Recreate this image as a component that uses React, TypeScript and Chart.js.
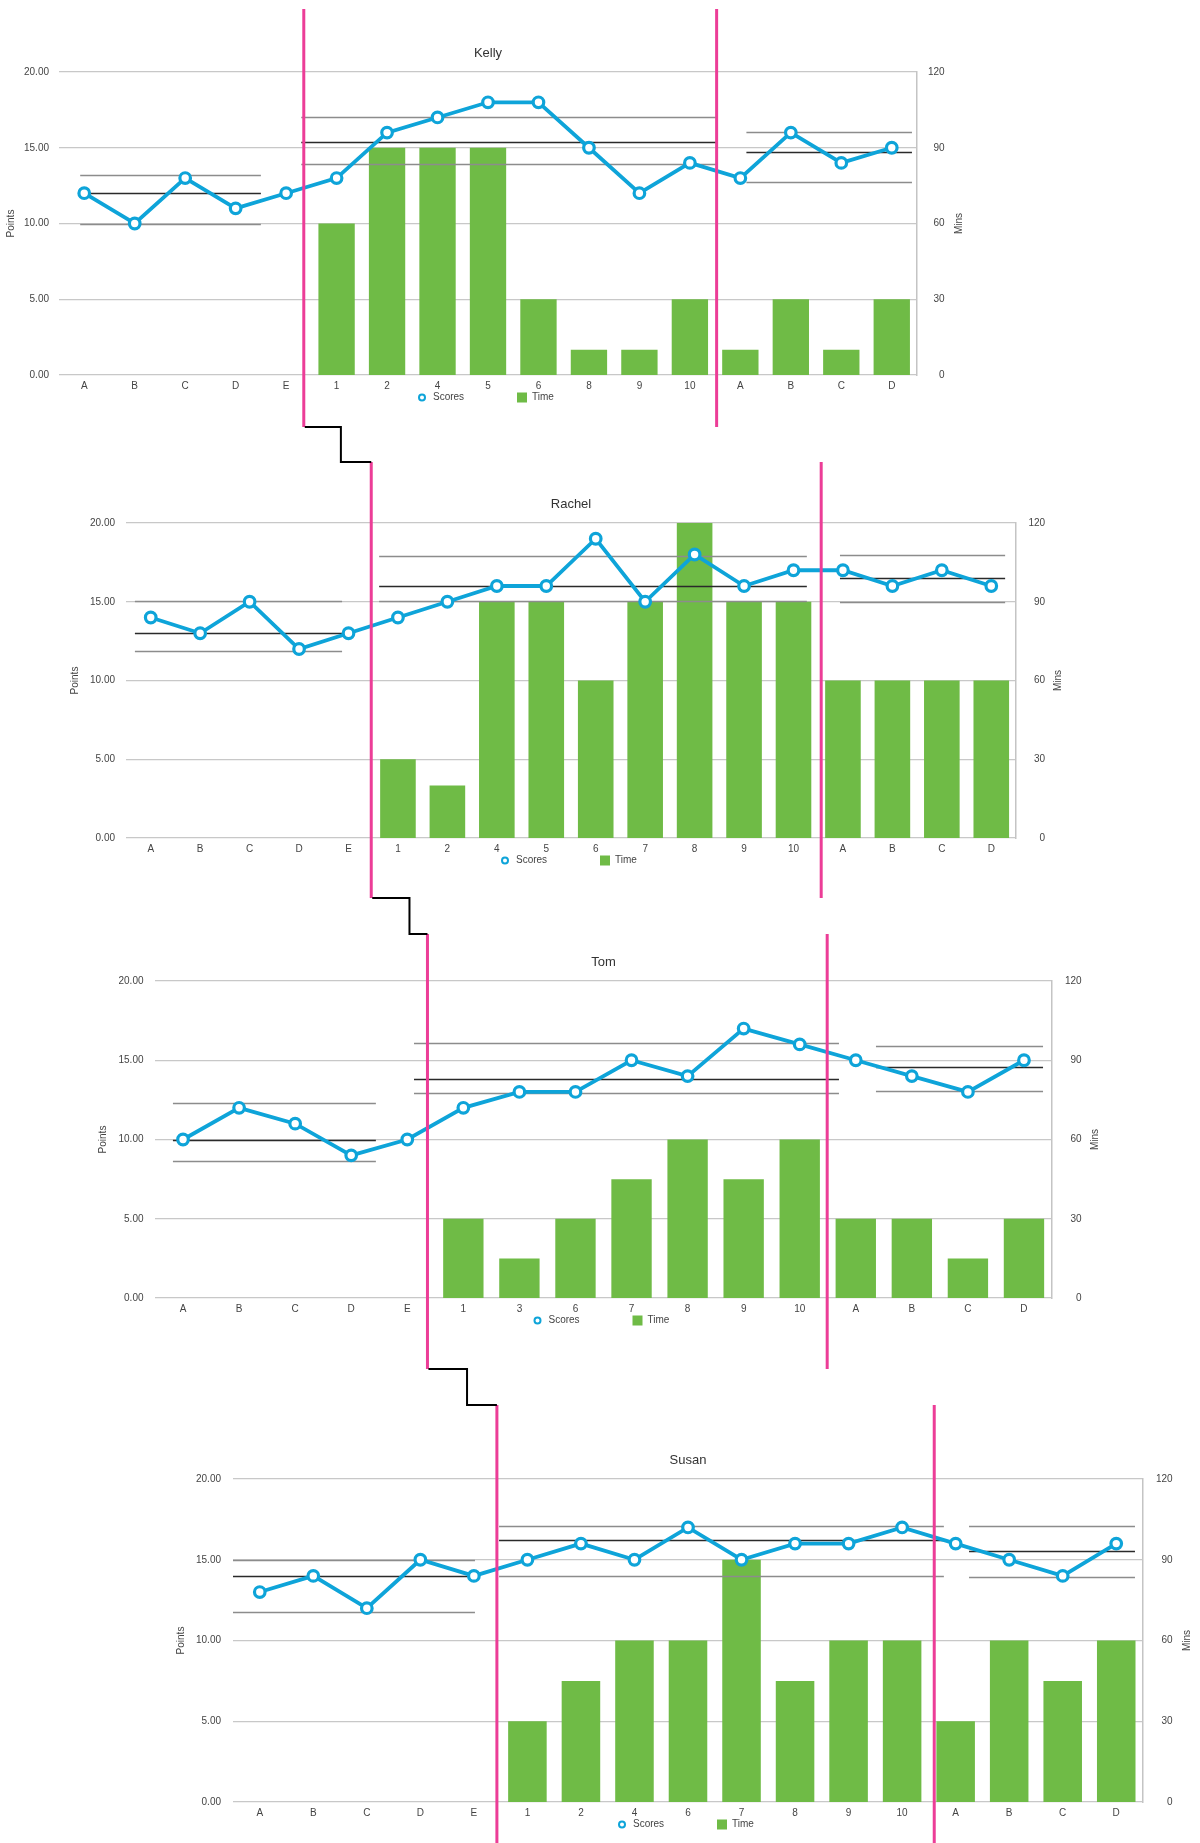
import React, { useEffect, useRef } from 'react';
import { Chart, registerables } from 'chart.js';

Chart.register(...registerables);

const FONT = '"Liberation Sans", Arial, Helvetica, sans-serif';
const BLUE = '#0ea4d9';
const GREEN = '#6fbb46';
const PINK = '#ec3d97';
const TEXT = '#444444';
const GRID = '#c8c8c8';

// ---------- data ----------
const pointsTicks = [0, 5, 10, 15, 20];
const minsTicks = [0, 30, 60, 90, 120];

const kellyLabels = ['A', 'B', 'C', 'D', 'E', '1', '2', '4', '5', '6', '8', '9', '10', 'A', 'B', 'C', 'D'];
const kellyScores = [12, 10, 13, 11, 12, 13, 16, 17, 18, 18, 15, 12, 14, 13, 16, 14, 15];
const kellyTime = [null, null, null, null, null, 60, 90, 90, 90, 30, 10, 10, 30, 10, 30, 10, 30];
const kellyStats = [[13.2, 12.0, 10.0], [17.0, 15.4, 13.9], [16.05, 14.7, 12.72]];
const kellyStatSpans = [[-0.08, 3.5], [4.3, 12.55], [13.12, 16.4]];
const kellyPhaseLines = [4.35, 12.53];

const rachelLabels = ['A', 'B', 'C', 'D', 'E', '1', '2', '4', '5', '6', '7', '8', '9', '10', 'A', 'B', 'C', 'D'];
const rachelScores = [14, 13, 15, 12, 13, 14, 15, 16, 16, 19, 15, 18, 16, 17, 17, 16, 17, 16];
const rachelTime = [null, null, null, null, null, 30, 20, 90, 90, 60, 90, 120, 90, 90, 60, 60, 60, 60];
const rachelStats = [[15.03, 13.0, 11.85], [17.93, 16.0, 15.03], [18.0, 16.5, 14.97]];
const rachelStatSpans = [[-0.32, 3.87], [4.62, 13.27], [13.94, 17.28]];
const rachelPhaseLines = [4.46, 13.56];

const tomLabels = ['A', 'B', 'C', 'D', 'E', '1', '3', '6', '7', '8', '9', '10', 'A', 'B', 'C', 'D'];
const tomScores = [10, 12, 11, 9, 10, 12, 13, 13, 15, 14, 17, 16, 15, 14, 13, 15];
const tomTime = [null, null, null, null, null, 30, 15, 30, 45, 60, 45, 60, 30, 30, 15, 30];
const tomStats = [[12.28, 10.0, 8.66], [16.07, 13.84, 12.93], [15.92, 14.55, 13.06]];
const tomStatSpans = [[-0.18, 3.44], [4.12, 11.7], [12.36, 15.34]];
const tomPhaseLines = [4.36, 11.49];

const susanLabels = ['A', 'B', 'C', 'D', 'E', '1', '2', '4', '6', '7', '8', '9', '10', 'A', 'B', 'C', 'D'];
const susanScores = [13, 14, 12, 15, 14, 15, 16, 15, 17, 15, 16, 16, 17, 16, 15, 14, 16];
const susanTime = [null, null, null, null, null, 30, 45, 60, 60, 90, 45, 60, 60, 30, 60, 45, 60];
const susanStats = [[15.0, 13.97, 11.74], [17.11, 16.24, 13.97], [17.11, 15.54, 13.91]];
const susanStatSpans = [[-0.5, 4.02], [4.47, 12.78], [13.25, 16.35]];
const susanPhaseLines = [4.43, 12.6];

// ---------- layout ----------
const X_AXIS_H = 18;
const LEGEND_H = 22;
const PINK_SEGMENTS = [[9, 427], [462, 898], [934, 1369], [1405, 1843]];
const CONNECTOR_FRAC = [0.55, 0.68, 0.57];

interface Box {
  canvasTop: number; left: number; right: number; top: number; bottom: number;
  pointsX: number; minsX: number; leftPad: number; rightPad: number;
}
interface Spec {
  name: string; labels: string[]; scores: number[]; time: (number | null)[];
  stats: number[][]; spans: number[][]; phases: number[]; box: Box;
}

const specs: Spec[] = [
  { name: 'Kelly', labels: kellyLabels, scores: kellyScores, time: kellyTime, stats: kellyStats, spans: kellyStatSpans, phases: kellyPhaseLines,
    box: { canvasTop: 0, left: 59, right: 917, top: 72, bottom: 375, pointsX: 11.5, minsX: 959, leftPad: 10, rightPad: 11 } },
  { name: 'Rachel', labels: rachelLabels, scores: rachelScores, time: rachelTime, stats: rachelStats, spans: rachelStatSpans, phases: rachelPhaseLines,
    box: { canvasTop: 440, left: 126, right: 1016, top: 523, bottom: 838, pointsX: 75, minsX: 1058, leftPad: 11, rightPad: 12.5 } },
  { name: 'Tom', labels: tomLabels, scores: tomScores, time: tomTime, stats: tomStats, spans: tomStatSpans, phases: tomPhaseLines,
    box: { canvasTop: 890, left: 155, right: 1052, top: 981, bottom: 1298, pointsX: 103, minsX: 1095, leftPad: 11.5, rightPad: 13 } },
  { name: 'Susan', labels: susanLabels, scores: susanScores, time: susanTime, stats: susanStats, spans: susanStatSpans, phases: susanPhaseLines,
    box: { canvasTop: 1350, left: 233, right: 1143, top: 1479, bottom: 1802, pointsX: 181, minsX: 1187, leftPad: 12, rightPad: 13 } },
];

function canvasHeight(b: Box) {
  return b.bottom - b.canvasTop + X_AXIS_H + LEGEND_H;
}

function idxPx(scale: any, v: number) {
  const p0 = scale.getPixelForValue(0);
  const p1 = scale.getPixelForValue(1);
  return p0 + v * (p1 - p0);
}

function makeChart(canvas: HTMLCanvasElement, spec: Spec) {
  const b = spec.box;
  const font = { family: FONT, size: 10 };
  const titleCenter = b.top - 19 - b.canvasTop;
  const titleLH = 13 * 1.2;

  const plugin = {
    id: 'phaseStats',
    beforeDatasetDraw(chart: any, args: any) {
      if (args.index !== 0) return;
      const ctx = chart.ctx;
      const xs = chart.scales.x;
      const ys = chart.scales.y;
      ctx.save();
      spec.stats.forEach((vals, p) => {
        const [s, e] = spec.spans[p];
        const x0 = idxPx(xs, s);
        const x1 = idxPx(xs, e);
        vals.forEach((v, k) => {
          const y = Math.round(ys.getPixelForValue(v)) + 0.5;
          ctx.strokeStyle = k === 1 ? '#2a2a2a' : '#8c8c8c';
          ctx.lineWidth = 1.3;
          ctx.beginPath();
          ctx.moveTo(x0, y);
          ctx.lineTo(x1, y);
          ctx.stroke();
        });
      });
      ctx.restore();
    },
    afterDraw(chart: any) {
      const ctx = chart.ctx;
      const ca = chart.chartArea;
      const cx = (ca.left + ca.right) / 2;
      const ly = ca.bottom + 22.5;
      const dsLine = chart.data.datasets[0];
      const dsBar = chart.data.datasets[1];
      ctx.save();
      ctx.font = `10px ${FONT}`;
      ctx.textBaseline = 'middle';
      ctx.textAlign = 'left';
      // Scores marker
      ctx.beginPath();
      ctx.arc(cx - 66, ly, 3, 0, Math.PI * 2);
      ctx.fillStyle = '#ffffff';
      ctx.fill();
      ctx.strokeStyle = dsLine.borderColor;
      ctx.lineWidth = 2;
      ctx.stroke();
      ctx.fillStyle = TEXT;
      ctx.fillText(dsLine.label, cx - 55, ly);
      // Time marker
      ctx.fillStyle = dsBar.backgroundColor;
      ctx.fillRect(cx + 29, ly - 5, 10, 10);
      ctx.fillStyle = TEXT;
      ctx.fillText(dsBar.label, cx + 44, ly);
      // right axis tick labels, right-aligned
      const y1 = chart.scales.y1;
      const texts = y1.ticks.map((t: any) => String(t.value));
      const widest = Math.max(...texts.map((t: string) => ctx.measureText(t).width));
      ctx.textAlign = 'right';
      y1.ticks.forEach((t: any, i: number) => {
        ctx.fillText(texts[i], ca.right + b.rightPad + widest, y1.getPixelForValue(t.value));
      });
      // right axis title
      ctx.translate(b.minsX, (ca.top + ca.bottom) / 2);
      ctx.rotate(-Math.PI / 2);
      ctx.textAlign = 'center';
      ctx.fillText('Mins', 0, 0);
      ctx.restore();
    },
  };

  return new Chart(canvas, {
    type: 'bar',
    data: {
      labels: spec.labels,
      datasets: [
        {
          type: 'line',
          label: 'Scores',
          data: spec.scores,
          yAxisID: 'y',
          borderColor: BLUE,
          borderWidth: 3.8,
          pointRadius: 5.3,
          pointBorderWidth: 3.2,
          pointBackgroundColor: '#ffffff',
          pointBorderColor: BLUE,
          tension: 0,
          fill: false,
        } as any,
        {
          type: 'bar',
          label: 'Time',
          data: spec.time,
          yAxisID: 'y1',
          backgroundColor: GREEN,
          borderWidth: 0,
        } as any,
      ],
    },
    options: {
      responsive: false,
      animation: false,
      devicePixelRatio: 1,
      layout: { padding: { left: 0, right: 0, top: 0, bottom: LEGEND_H } },
      plugins: {
        legend: { display: false },
        tooltip: { enabled: false },
        title: {
          display: true,
          text: spec.name,
          fullSize: false,
          color: '#333333',
          font: { family: FONT, size: 13, weight: 'normal' },
          padding: { top: titleCenter - titleLH / 2, bottom: 19 - titleLH / 2 },
        },
      },
      scales: {
        x: {
          type: 'category',
          offset: true,
          grid: { display: false, drawTicks: false },
          border: { display: false },
          ticks: { font, color: TEXT, padding: 5, maxRotation: 0, autoSkip: false },
          afterFit: (s: any) => { s.height = X_AXIS_H; },
        },
        y: {
          position: 'left',
          min: 0,
          max: 20,
          afterBuildTicks: (s: any) => { s.ticks = pointsTicks.map((v) => ({ value: v })); },
          ticks: { font, color: TEXT, padding: b.leftPad, callback: (v: any) => Number(v).toFixed(2) },
          grid: { color: GRID, lineWidth: 1.2, drawTicks: false },
          border: { display: false },
          title: { display: true, text: 'Points', font, color: TEXT, padding: { top: b.pointsX - 6, bottom: 0 } },
          afterFit: (s: any) => { s.width = b.left; },
        },
        y1: {
          position: 'right',
          min: 0,
          max: 120,
          afterBuildTicks: (s: any) => { s.ticks = minsTicks.map((v) => ({ value: v })); },
          ticks: { display: false },
          grid: { display: false, drawTicks: false },
          border: { display: true, color: '#c4c4c4', width: 1.5 },
          afterFit: (s: any) => { s.width = 1200 - b.right; },
        },
      },
    } as any,
    plugins: [plugin],
  });
}

function drawOverlay(canvas: HTMLCanvasElement, charts: any[]) {
  const ctx = canvas.getContext('2d');
  if (!ctx) return;
  ctx.clearRect(0, 0, canvas.width, canvas.height);
  const firstX: number[] = [];
  charts.forEach((chart, k) => {
    const spec = specs[k];
    const xs = chart.scales.x;
    const [y0, y1] = PINK_SEGMENTS[k];
    spec.phases.forEach((v, j) => {
      const x = idxPx(xs, v);
      if (j === 0) firstX.push(x);
      ctx.strokeStyle = PINK;
      ctx.lineWidth = 3;
      ctx.beginPath();
      ctx.moveTo(x, y0);
      ctx.lineTo(x, y1);
      ctx.stroke();
    });
  });
  for (let k = 0; k < charts.length - 1; k++) {
    const x1 = firstX[k];
    const x2 = firstX[k + 1];
    const mx = x1 + CONNECTOR_FRAC[k] * (x2 - x1);
    const yA = PINK_SEGMENTS[k][1];
    const yB = PINK_SEGMENTS[k + 1][0];
    ctx.strokeStyle = '#000000';
    ctx.lineWidth = 2;
    ctx.beginPath();
    ctx.moveTo(x1 + 1, yA);
    ctx.lineTo(mx, yA);
    ctx.lineTo(mx, yB);
    ctx.lineTo(x2, yB);
    ctx.stroke();
  }
}

export default function App() {
  const refs = useRef<(HTMLCanvasElement | null)[]>([]);
  const overlayRef = useRef<HTMLCanvasElement | null>(null);

  useEffect(() => {
    const charts = specs.map((s, i) => makeChart(refs.current[i] as HTMLCanvasElement, s));
    if (overlayRef.current) drawOverlay(overlayRef.current, charts);
    return () => {
      charts.forEach((c) => c.destroy());
    };
  }, []);

  return (
    <div>
      {specs.map((s, i) => {
        const h = canvasHeight(s.box);
        return (
          <canvas
            key={s.name}
            ref={(el) => { refs.current[i] = el; }}
            width={1200}
            height={h}
            style={{ position: 'absolute', left: 0, top: s.box.canvasTop, width: 1200, height: h }}
          />
        );
      })}
      <canvas
        ref={overlayRef}
        width={1200}
        height={1843}
        style={{ position: 'absolute', left: 0, top: 0, width: 1200, height: 1843, pointerEvents: 'none' }}
      />
    </div>
  );
}
